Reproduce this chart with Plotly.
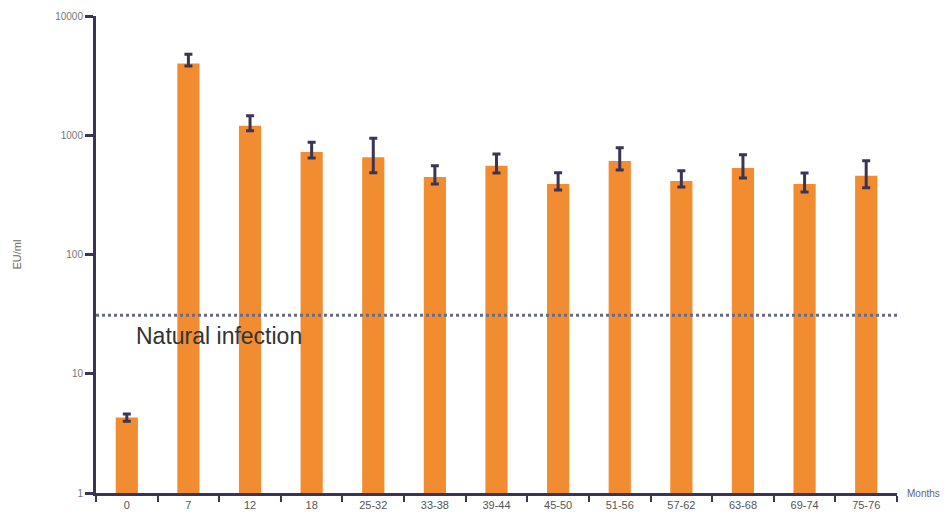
import plotly.graph_objects as go

categories = ["0", "7", "12", "18", "25-32", "33-38", "39-44", "45-50",
              "51-56", "57-62", "63-68", "69-74", "75-76"]
means = [4.3, 4000, 1200, 724, 653, 446, 555, 390, 608, 413, 531, 390, 458]
err_upper = [4.6, 4770, 1459, 873, 943, 555, 697, 485, 787, 504, 687, 482, 612]
err_lower = [4.0, 3810, 1092, 645, 485, 390, 482, 347, 511, 368, 438, 334, 363]
natural_infection = 31
y_tickvals = [1, 10, 100, 1000, 10000]
y_ticktext = ["1", "10", "100", "1000", "10000"]

plus = [u - m for u, m in zip(err_upper, means)]
minus = [m - l for m, l in zip(means, err_lower)]

axis_col = "#3a3555"
fig = go.Figure()
fig.add_trace(go.Bar(
    x=categories, y=means, width=0.36,
    marker=dict(color="#f28c30", line=dict(width=0)),
    error_y=dict(type="data", symmetric=False, array=plus, arrayminus=minus,
                 color=axis_col, thickness=3, width=4),
))
fig.add_shape(type="line", xref="paper", yref="y", x0=0, x1=1,
              y0=natural_infection, y1=natural_infection,
              line=dict(color="#6a6a85", width=3, dash="dot"))
fig.add_annotation(text="Natural infection", xref="paper", yref="paper",
                   x=0.047, y=0.329, xanchor="left", yanchor="middle",
                   showarrow=False,
                   font=dict(family="Liberation Sans, Arial", size=23, color="#333"))
fig.add_annotation(text="Months", xref="paper", yref="paper",
                   x=1.01, y=0, xanchor="left", yanchor="middle",
                   showarrow=False,
                   font=dict(family="Liberation Sans, Arial", size=10, color="#666"))

fig.update_layout(
    width=950, height=516,
    margin=dict(l=96, r=53, t=16, b=23),
    plot_bgcolor="white", paper_bgcolor="white",
    showlegend=False,
    font=dict(family="Liberation Sans, Arial", size=11, color="#666"),
    xaxis=dict(type="category", showline=True, linecolor=axis_col, linewidth=3,
               ticks="outside", tickson="boundaries", ticklen=6, tickwidth=2,
               tickcolor=axis_col, showgrid=False, zeroline=False,
               automargin=False,
               tickfont=dict(size=11, color="#555")),
    yaxis=dict(type="log", range=[0, 4], showline=True, linecolor=axis_col,
               linewidth=3, ticks="outside", ticklen=8, tickwidth=3,
               tickcolor=axis_col, tickvals=y_tickvals, ticktext=y_ticktext,
               showgrid=False, zeroline=False, automargin=False,
               title=dict(text="EU/ml", font=dict(size=11, color="#666"), standoff=32),
               tickfont=dict(size=10, color="#777")),
)
fig.write_html("out.html")
